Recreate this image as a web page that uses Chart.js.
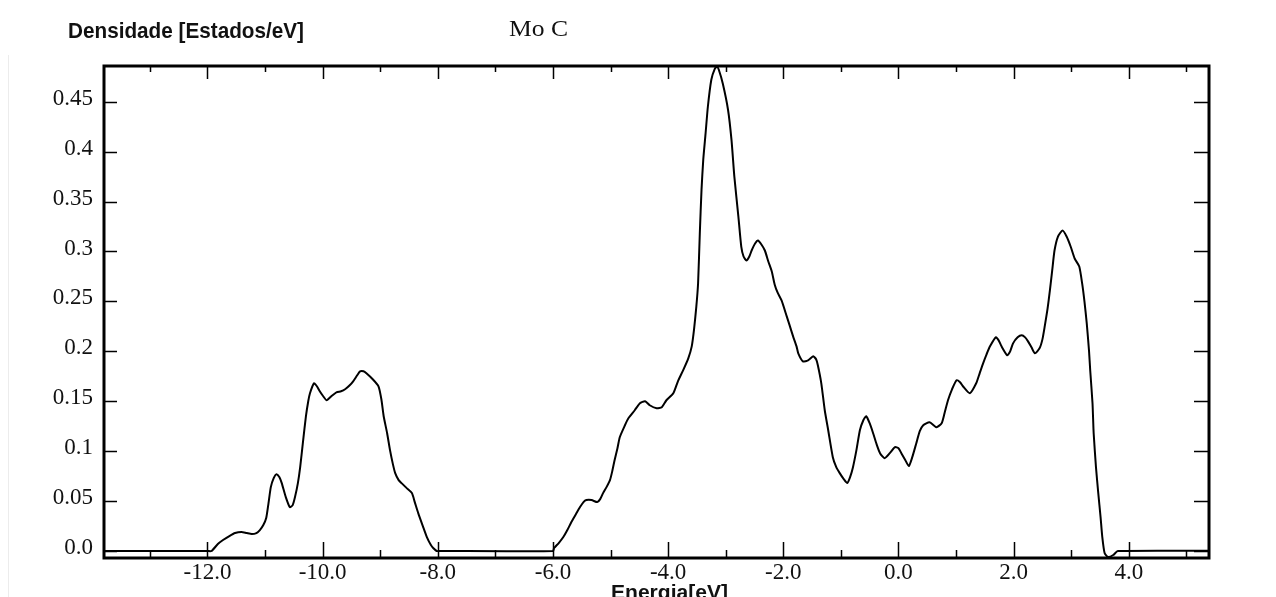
<!DOCTYPE html>
<html>
<head>
<meta charset="utf-8">
<title>Mo C</title>
<script src="https://cdn.jsdelivr.net/npm/chart.js@4.4.1/dist/chart.umd.min.js"></script>
<style>
  html, body { margin: 0; padding: 0; background: #fff; }
  #wrap { position: relative; width: 1276px; height: 597px; overflow: hidden; }
</style>
</head>
<body>
<div id="wrap"><canvas id="dosChart" width="1276" height="597"></canvas></div>
<script>
// energy axis values (eV) and density of states
const energy = [
  -14.0, -12.0, -11.93, -11.82, -11.73, -11.62, -11.52, -11.41, -11.32, -11.23,
  -11.15, -11.09, -11.03, -10.98, -10.94, -10.90, -10.85, -10.80, -10.75, -10.71,
  -10.64, -10.57, -10.52, -10.48, -10.43, -10.39, -10.34, -10.29, -10.25, -10.22,
  -10.15, -10.10, -10.05, -9.99, -9.93, -9.85, -9.76, -9.68, -9.61, -9.53,
  -9.47, -9.40, -9.35, -9.29, -9.24, -9.13, -9.03, -8.98, -8.94, -8.88,
  -8.83, -8.78, -8.74, -8.68, -8.63, -8.54, -8.45, -8.40, -8.34, -8.26,
  -8.19, -8.12, -8.08, -8.02, -7.98, -6.0, -5.98, -5.90, -5.82, -5.75,
  -5.68, -5.60, -5.53, -5.47, -5.42, -5.33, -5.23, -5.18, -5.13, -5.07,
  -5.01, -4.97, -4.93, -4.88, -4.84, -4.75, -4.69, -4.58, -4.49, -4.40,
  -4.32, -4.20, -4.11, -4.03, -3.91, -3.83, -3.74, -3.65, -3.59, -3.55,
  -3.51, -3.48, -3.45, -3.42, -3.39, -3.35, -3.31, -3.25, -3.19, -3.15,
  -3.12, -3.05, -2.96, -2.90, -2.85, -2.78, -2.73, -2.69, -2.64, -2.59,
  -2.55, -2.49, -2.44, -2.38, -2.32, -2.26, -2.20, -2.15, -2.10, -2.03,
  -1.94, -1.89, -1.83, -1.77, -1.74, -1.66, -1.57, -1.48, -1.43, -1.40,
  -1.34, -1.28, -1.22, -1.14, -1.08, -1.02, -0.95, -0.89, -0.84, -0.79,
  -0.73, -0.67, -0.61, -0.56, -0.50, -0.44, -0.38, -0.32, -0.24, -0.15,
  -0.06, 0.00, 0.05, 0.12, 0.18, 0.24, 0.31, 0.37, 0.43, 0.54,
  0.66, 0.75, 0.80, 0.86, 0.93, 1.01, 1.07, 1.12, 1.24, 1.35,
  1.41, 1.47, 1.53, 1.59, 1.69, 1.74, 1.79, 1.89, 1.94, 1.99,
  2.07, 2.14, 2.20, 2.25, 2.31, 2.37, 2.45, 2.50, 2.54, 2.59,
  2.63, 2.67, 2.71, 2.77, 2.85, 2.92, 2.99, 3.06, 3.14, 3.19,
  3.23, 3.27, 3.31, 3.33, 3.37, 3.39, 3.43, 3.47, 3.51, 3.54,
  3.58, 3.64, 3.73, 3.81, 6.0
];
const density = [
  0, 0, 0.000, 0.007, 0.011, 0.015, 0.018, 0.019, 0.018, 0.017,
  0.018, 0.021, 0.026, 0.033, 0.048, 0.064, 0.073, 0.077, 0.074, 0.068,
  0.054, 0.044, 0.046, 0.054, 0.068, 0.084, 0.110, 0.135, 0.150, 0.158,
  0.168, 0.165, 0.160, 0.155, 0.151, 0.155, 0.159, 0.160, 0.162, 0.166,
  0.170, 0.176, 0.180, 0.180, 0.178, 0.172, 0.165, 0.152, 0.135, 0.118,
  0.101, 0.087, 0.078, 0.071, 0.068, 0.063, 0.058, 0.049, 0.038, 0.025,
  0.014, 0.006, 0.003, 0.000, 0.000, 0, 0.003, 0.008, 0.014, 0.021,
  0.029, 0.037, 0.044, 0.049, 0.051, 0.051, 0.049, 0.052, 0.058, 0.064,
  0.071, 0.080, 0.091, 0.103, 0.114, 0.126, 0.133, 0.141, 0.148, 0.150,
  0.146, 0.143, 0.144, 0.151, 0.158, 0.170, 0.181, 0.193, 0.205, 0.222,
  0.245, 0.268, 0.318, 0.362, 0.392, 0.418, 0.445, 0.472, 0.483, 0.485,
  0.482, 0.468, 0.442, 0.412, 0.375, 0.335, 0.305, 0.295, 0.291, 0.295,
  0.301, 0.308, 0.311, 0.307, 0.301, 0.290, 0.280, 0.267, 0.259, 0.251,
  0.235, 0.226, 0.215, 0.205, 0.198, 0.190, 0.191, 0.195, 0.192, 0.186,
  0.168, 0.141, 0.121, 0.094, 0.084, 0.078, 0.072, 0.068, 0.074, 0.084,
  0.101, 0.121, 0.131, 0.135, 0.128, 0.118, 0.107, 0.098, 0.093, 0.098,
  0.104, 0.103, 0.098, 0.091, 0.085, 0.094, 0.108, 0.120, 0.126, 0.129,
  0.124, 0.128, 0.138, 0.151, 0.162, 0.171, 0.169, 0.165, 0.158, 0.168,
  0.178, 0.188, 0.197, 0.205, 0.214, 0.211, 0.205, 0.196, 0.200, 0.208,
  0.214, 0.216, 0.214, 0.210, 0.204, 0.198, 0.203, 0.212, 0.225, 0.243,
  0.261, 0.281, 0.301, 0.315, 0.321, 0.315, 0.305, 0.293, 0.285, 0.268,
  0.250, 0.228, 0.200, 0.181, 0.148, 0.118, 0.084, 0.058, 0.034, 0.014,
  -0.002, -0.006, -0.004, 0.000, 0
];

const xTicks = [-12, -10, -8, -6, -4, -2, 0, 2, 4];
const xTickLabels = ['-12.0', '-10.0', '-8.0', '-6.0', '-4.0', '-2.0', '0.0', '2.0', '4.0'];
const xMinorTicks = [-13, -11, -9, -7, -5, -3, -1, 1, 3, 5];
const yTicks = [0, 0.05, 0.1, 0.15, 0.2, 0.25, 0.3, 0.35, 0.4, 0.45];
const yTickLabels = ['0.0', '0.05', '0.1', '0.15', '0.2', '0.25', '0.3', '0.35', '0.4', '0.45'];

const yTitle = 'Densidade [Estados/eV]';
const plotTitle = 'Mo C';
const xTitle = 'Energia[eV]';

const serif = '"Liberation Serif", "Times New Roman", serif';
const sans = '"Liberation Sans", Arial, sans-serif';

// draws text squeezed/stretched to a given width
function fitText(ctx, text, x, y, width) {
  const w = ctx.measureText(text).width;
  ctx.save();
  ctx.translate(x, y);
  ctx.scale(width / w, 1);
  ctx.fillText(text, 0, 0);
  ctx.restore();
}

// frame, inward tick marks and the three captions
const framePlugin = {
  id: 'framePlugin',
  afterDatasetsDraw(chart) {
    const ctx = chart.ctx;
    const a = chart.chartArea;
    const xs = chart.scales.x;
    const ys = chart.scales.y;
    ctx.save();
    ctx.strokeStyle = '#000';
    ctx.lineWidth = 1.5;
    ctx.beginPath();
    xTicks.forEach(v => {
      const px = Math.round(xs.getPixelForValue(v)) + 0.5;
      ctx.moveTo(px, a.bottom); ctx.lineTo(px, a.bottom - 16);
      ctx.moveTo(px, a.top); ctx.lineTo(px, a.top + 13);
    });
    xMinorTicks.forEach(v => {
      const px = Math.round(xs.getPixelForValue(v)) + 0.5;
      ctx.moveTo(px, a.bottom); ctx.lineTo(px, a.bottom - 8);
      ctx.moveTo(px, a.top); ctx.lineTo(px, a.top + 6);
    });
    yTicks.forEach(v => {
      const py = Math.round(ys.getPixelForValue(v)) + 0.5;
      ctx.moveTo(a.left, py); ctx.lineTo(a.left + 13, py);
      ctx.moveTo(a.right, py); ctx.lineTo(a.right - 15, py);
    });
    ctx.stroke();
    ctx.lineWidth = 3;
    ctx.strokeRect(a.left, a.top, a.right - a.left, a.bottom - a.top);

    // faint page edge on the far left
    ctx.strokeStyle = '#ececec';
    ctx.lineWidth = 1;
    ctx.beginPath();
    ctx.moveTo(8.5, 55); ctx.lineTo(8.5, 597);
    ctx.stroke();

    ctx.fillStyle = '#111';
    ctx.textBaseline = 'alphabetic';
    ctx.textAlign = 'left';
    ctx.font = 'bold 22px ' + sans;
    fitText(ctx, yTitle, 68, 38, 236);

    ctx.font = '23px ' + serif;
    fitText(ctx, plotTitle, 509, 36, 59);

    ctx.font = 'bold 21px ' + sans;
    fitText(ctx, xTitle, 611, 599, 117);
    ctx.restore();
  }
};

const ctx = document.getElementById('dosChart').getContext('2d');
const dosChart = new Chart(ctx, {
  type: 'line',
  data: {
    datasets: [{
      label: 'Mo C',
      data: energy.map((e, i) => ({ x: e, y: density[i] })),
      borderColor: '#000',
      borderWidth: 2,
      pointRadius: 0,
      tension: 0.2,
      fill: false
    }]
  },
  options: {
    responsive: false,
    animation: false,
    devicePixelRatio: 1,
    layout: { padding: { top: 66, right: 67, bottom: 0, left: 0 } },
    plugins: {
      legend: { display: false },
      tooltip: { enabled: false },
      title: { display: false }
    },
    scales: {
      x: {
        type: 'linear',
        min: -13.797,
        max: 5.393,
        afterBuildTicks: s => { s.ticks = xTicks.map(v => ({ value: v })); },
        afterFit: s => { s.height = 39; },
        grid: { display: false, drawTicks: false },
        border: { display: false },
        ticks: {
          callback: (v, i) => xTickLabels[i],
          font: { family: serif, size: 23 },
          color: '#111',
          padding: 1,
          maxRotation: 0,
          autoSkip: false
        }
      },
      y: {
        type: 'linear',
        min: -0.007,
        max: 0.4858,
        afterBuildTicks: s => { s.ticks = yTicks.map(v => ({ value: v })); },
        afterFit: s => { s.width = 104; },
        grid: { display: false, drawTicks: false },
        border: { display: false },
        ticks: {
          callback: (v, i) => yTickLabels[i],
          font: { family: serif, size: 23 },
          color: '#111',
          padding: 11,
          labelOffset: -3,
          autoSkip: false
        }
      }
    }
  },
  plugins: [framePlugin]
});
</script>
</body>
</html>
